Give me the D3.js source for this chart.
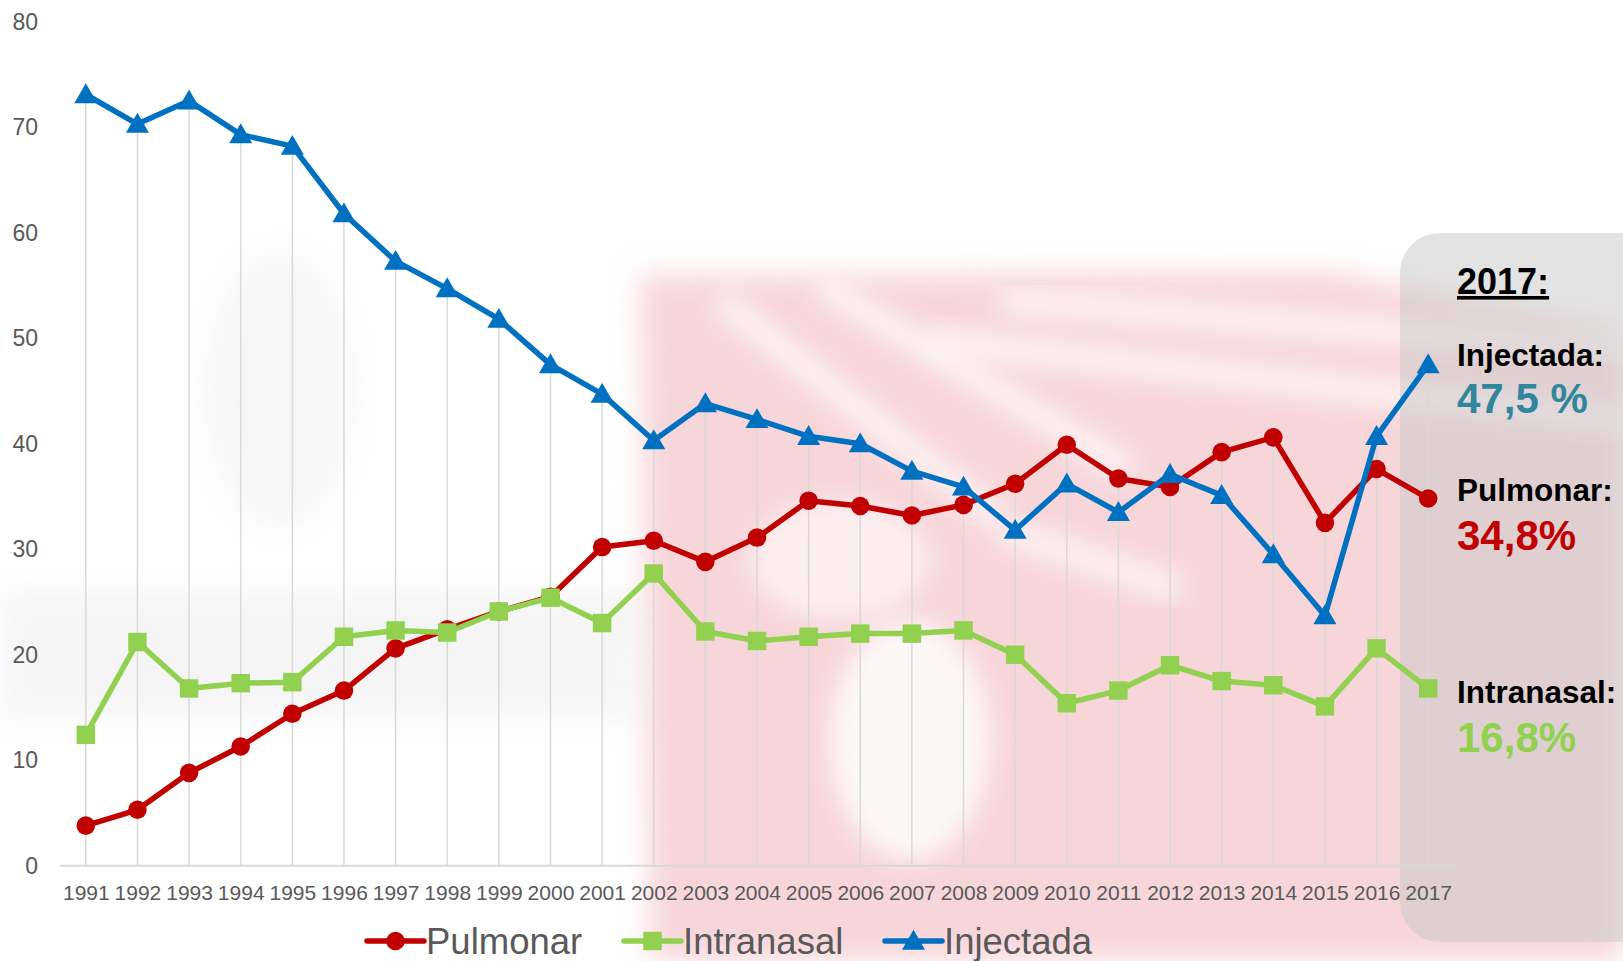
<!DOCTYPE html>
<html>
<head>
<meta charset="utf-8">
<script src="https://cdn.jsdelivr.net/npm/d3@7"></script>
<style>
  body { margin: 0; background: #fff; }
  svg { display: block; font-family: "Liberation Sans", Arial, sans-serif; }
</style>
</head>
<body>
<div id="chart"></div>
<script>
const years = d3.range(1991, 2018).map(String);
const pulmonar = [3.8, 5.3, 8.8, 11.3, 14.4, 16.6, 20.6, 22.4, 24.1, 25.5, 30.2, 30.8, 28.8, 31.1, 34.6, 34.1, 33.2, 34.2, 36.2, 39.9, 36.7, 35.9, 39.2, 40.6, 32.5, 37.6, 34.8];
const intranasal = [12.4, 21.2, 16.8, 17.3, 17.4, 21.7, 22.3, 22.1, 24.1, 25.4, 23.0, 27.7, 22.2, 21.3, 21.7, 22.0, 22.0, 22.3, 20.0, 15.4, 16.6, 19.0, 17.5, 17.1, 15.1, 20.6, 16.8];
const injectada = [73.1, 70.3, 72.5, 69.3, 68.2, 61.8, 57.3, 54.7, 51.8, 47.5, 44.7, 40.3, 43.8, 42.3, 40.7, 40.0, 37.4, 35.9, 31.8, 36.2, 33.5, 37.1, 35.1, 29.5, 23.7, 40.7, 47.5];
const yTicks = [0, 10, 20, 30, 40, 50, 60, 70, 80];

const seriesNames = ["Pulmonar", "Intranasal", "Injectada"];
const seriesColors = ["#C00000", "#92D050", "#0070C0"];
const seriesSymbols = [d3.symbolCircle, d3.symbolSquare, d3.symbolTriangle];
const seriesValues = [pulmonar, intranasal, injectada];

const summaryTitle = "2017:";
const summaryLabels = ["Injectada:", "Pulmonar:", "Intranasal:"];
const summaryValues = ["47,5 %", "34,8%", "16,8%"];
const summaryColors = ["#31859C", "#C00000", "#92D050"];

const width = 1623, height = 961;

const svg = d3.select("#chart").append("svg")
    .attr("width", width)
    .attr("height", height);

const defs = svg.append("defs");
defs.append("filter").attr("id", "blur")
    .attr("x", "-20%").attr("y", "-20%").attr("width", "140%").attr("height", "140%")
    .append("feGaussianBlur").attr("stdDeviation", 14);
defs.append("filter").attr("id", "blur2")
    .attr("x", "-30%").attr("y", "-30%").attr("width", "160%").attr("height", "160%")
    .append("feGaussianBlur").attr("stdDeviation", 12);

svg.append("rect").attr("width", width).attr("height", height).attr("fill", "#fff");

// blurred logo behind the chart
const wm = svg.append("g").attr("pointer-events", "none");
wm.append("path")
    .attr("d", "M640,275 L1330,272 L1623,330 L1623,961 L650,961 Z")
    .attr("fill", "#f7d6da")
    .attr("filter", "url(#blur)");
const streaks = [
    "M720,300 L1000,520",
    "M820,285 L1130,470",
    "M1000,300 L1623,350",
    "M930,340 L1623,420",
    "M1000,530 L1180,590"
];
wm.selectAll("path.streak").data(streaks).join("path")
    .attr("class", "streak")
    .attr("d", d => d)
    .attr("stroke", "#ffffff")
    .attr("stroke-width", 26)
    .attr("stroke-opacity", 0.7)
    .attr("fill", "none")
    .attr("filter", "url(#blur2)");
wm.append("ellipse")
    .attr("cx", 910).attr("cy", 740).attr("rx", 80).attr("ry", 120)
    .attr("fill", "#fff").attr("opacity", 0.8)
    .attr("filter", "url(#blur2)");
wm.append("ellipse")
    .attr("cx", 840).attr("cy", 560).attr("rx", 90).attr("ry", 60)
    .attr("fill", "#fff").attr("opacity", 0.6)
    .attr("filter", "url(#blur2)");
wm.append("rect")
    .attr("x", 0).attr("y", 590).attr("width", 640).attr("height", 130)
    .attr("fill", "#ececec").attr("opacity", 0.5)
    .attr("filter", "url(#blur)");
wm.append("ellipse")
    .attr("cx", 280).attr("cy", 390).attr("rx", 75).attr("ry", 140)
    .attr("fill", "#ededed").attr("opacity", 0.45)
    .attr("filter", "url(#blur)");

// summary box on the right
svg.append("rect")
    .attr("x", 1400).attr("y", 233)
    .attr("width", 280).attr("height", 709)
    .attr("rx", 40)
    .attr("fill", "rgba(200,200,200,0.5)");

const x = d3.scalePoint()
    .domain(years)
    .range([60, 1454])
    .padding(0.5);

const y = d3.scaleLinear()
    .domain([0, 80])
    .range([865.7, 21.7]);

// drop lines
const maxes = years.map((yr, i) => d3.max(seriesValues, s => s[i]));
svg.append("g").selectAll("line").data(years).join("line")
    .attr("x1", d => x(d)).attr("x2", d => x(d))
    .attr("y1", (d, i) => y(maxes[i]))
    .attr("y2", y(0))
    .attr("stroke", "#d9d9d9")
    .attr("stroke-width", 1.5);

// x axis
const xAxis = svg.append("g")
    .attr("transform", `translate(0,${y(0)})`)
    .call(d3.axisBottom(x).tickSize(0).tickPadding(19));
xAxis.select(".domain").attr("stroke", "#d9d9d9").attr("stroke-width", 2)
    .attr("d", "M60,0H1454");
xAxis.selectAll("text")
    .attr("fill", "#595959")
    .style("font-size", "21px")
    .style("font-family", "Liberation Sans, Arial, sans-serif");

// y axis labels
const yAxis = svg.append("g")
    .attr("transform", "translate(38,0)")
    .call(d3.axisLeft(y).tickValues(yTicks).tickSize(0).tickPadding(0));
yAxis.select(".domain").remove();
yAxis.selectAll("text")
    .attr("fill", "#595959")
    .style("font-size", "23px")
    .style("font-family", "Liberation Sans, Arial, sans-serif");

// series
const line = d3.line().x((d, i) => x(years[i])).y(d => y(d));
const symbolSizes = [270, 340, 230];

seriesValues.forEach((vals, k) => {
    const g = svg.append("g");
    g.append("path")
        .datum(vals)
        .attr("d", line)
        .attr("fill", "none")
        .attr("stroke", seriesColors[k])
        .attr("stroke-width", 5.5)
        .attr("stroke-linejoin", "round");
    g.selectAll("path.mark").data(vals).join("path")
        .attr("class", "mark")
        .attr("transform", (d, i) => `translate(${x(years[i])},${y(d) + (k === 2 ? 2 : 0)})`)
        .attr("d", d3.symbol().type(seriesSymbols[k]).size(symbolSizes[k]))
        .attr("fill", seriesColors[k]);
});

// legend
const legendX = [367, 624, 885];
const legendY = 941;
const legend = svg.append("g");
seriesNames.forEach((name, k) => {
    const lg = legend.append("g").attr("transform", `translate(${legendX[k]},${legendY})`);
    lg.append("line")
        .attr("x1", 0).attr("x2", 57).attr("y1", 0).attr("y2", 0)
        .attr("stroke", seriesColors[k]).attr("stroke-width", 5.5)
        .attr("stroke-linecap", "round");
    lg.append("path")
        .attr("transform", `translate(28.5,${k === 2 ? 2 : 0})`)
        .attr("d", d3.symbol().type(seriesSymbols[k]).size(symbolSizes[k]))
        .attr("fill", seriesColors[k]);
    lg.append("text")
        .attr("x", 59).attr("y", 13)
        .attr("fill", "#595959")
        .style("font-size", "36.5px")
        .text(name);
});

// summary text
const tx = 1457;
svg.append("text")
    .attr("x", tx).attr("y", 294)
    .attr("fill", "#000")
    .style("font-size", "36px").style("font-weight", "bold")
    .style("text-decoration", "underline")
    .text(summaryTitle);

const labelY = [365.5, 501, 703];
const valueY = [413, 550, 752];
summaryLabels.forEach((lab, k) => {
    svg.append("text")
        .attr("x", tx).attr("y", labelY[k])
        .attr("fill", "#000")
        .style("font-size", "31.5px").style("font-weight", "bold")
        .text(lab);
    svg.append("text")
        .attr("x", tx).attr("y", valueY[k])
        .attr("fill", summaryColors[k])
        .style("font-size", "42px").style("font-weight", "bold")
        .text(summaryValues[k]);
});
</script>
</body>
</html>
